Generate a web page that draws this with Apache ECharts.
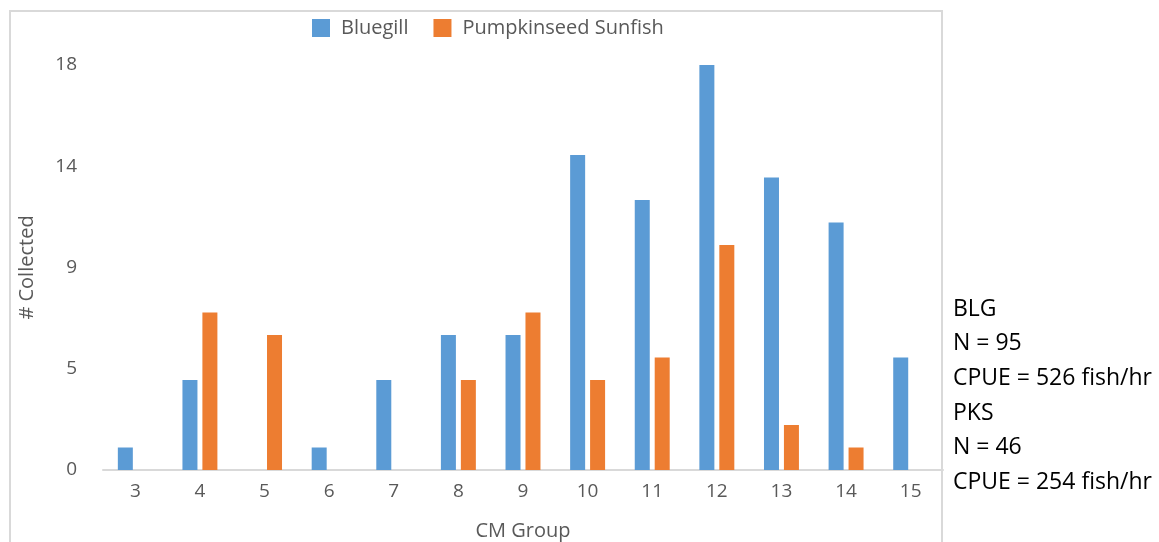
<!DOCTYPE html>
<html>
<head>
<meta charset="utf-8">
<script src="https://cdn.jsdelivr.net/npm/echarts@6/dist/echarts.min.js"></script>
<style>
  html, body { margin: 0; padding: 0; background: #fff; }
  #chart { width: 1159px; height: 542px; }
</style>
</head>
<body>
<div id="chart"></div>
<script>
const categories = ['3', '4', '5', '6', '7', '8', '9', '10', '11', '12', '13', '14', '15'];
const bluegill = [1, 4, 0, 1, 4, 6, 6, 14, 12, 18, 13, 11, 5];
const pumpkinseed = [0, 7, 6, 0, 0, 4, 7, 4, 5, 10, 2, 1, 0];
const yTickLabels = ['0', '5', '9', '14', '18'];
const notes = ['BLG', 'N = 95', 'CPUE = 526 fish/hr', 'PKS', 'N = 46', 'CPUE = 254 fish/hr'];

const font = '"Open Sans", "Noto Sans", sans-serif';
const grey = '#595959';

const myChart = echarts.init(document.getElementById('chart'));

myChart.setOption({
    animation: false,
    textStyle: { fontFamily: font },
    legend: {
        left: 307,
        top: 13,
        itemWidth: 18,
        itemHeight: 18,
        itemGap: 25,
        icon: 'rect',
        textStyle: { fontSize: 20, color: grey, fontFamily: font, padding: [0, 0, 0, 6] },
        data: ['Bluegill', 'Pumpkinseed Sunfish']
    },
    grid: {
        left: 103,
        right: 216,
        top: 65,
        bottom: 72,
        outerBoundsMode: 'none'
    },
    xAxis: {
        type: 'category',
        data: categories,
        name: 'CM Group',
        nameLocation: 'middle',
        nameGap: 51,
        nameTextStyle: { fontSize: 20, color: grey, fontFamily: font },
        axisLine: { lineStyle: { color: '#d9d9d9', width: 2 } },
        axisTick: { show: false },
        axisLabel: { fontSize: 19, color: grey, margin: 12, fontFamily: font }
    },
    yAxis: {
        type: 'value',
        min: 0,
        max: 18,
        interval: 4.5,
        name: '# Collected',
        nameLocation: 'middle',
        nameGap: 66,
        nameTextStyle: { fontSize: 20, color: grey, fontFamily: font },
        axisLine: { show: false },
        axisTick: { show: false },
        splitLine: { show: false },
        axisLabel: {
            fontSize: 19,
            color: grey,
            margin: 26,
            fontFamily: font,
            formatter: function (v, i) { return yTickLabels[i]; }
        }
    },
    series: [
        {
            name: 'Bluegill',
            type: 'bar',
            barWidth: 15,
            barGap: '33%',
            itemStyle: { color: '#5b9bd5' },
            data: bluegill
        },
        {
            name: 'Pumpkinseed Sunfish',
            type: 'bar',
            barWidth: 15,
            itemStyle: { color: '#ed7d31' },
            data: pumpkinseed
        }
    ],
    graphic: [
        {
            type: 'rect',
            shape: { x: 10, y: 11, width: 932, height: 560 },
            style: { fill: 'none', stroke: '#d9d9d9', lineWidth: 2 },
            silent: true
        },
        {
            type: 'text',
            left: 953,
            top: 292,
            style: {
                text: notes.join('\n'),
                fontSize: 23,
                lineHeight: 34.6,
                fill: '#000',
                fontFamily: font
            }
        }
    ]
});
</script>
</body>
</html>
